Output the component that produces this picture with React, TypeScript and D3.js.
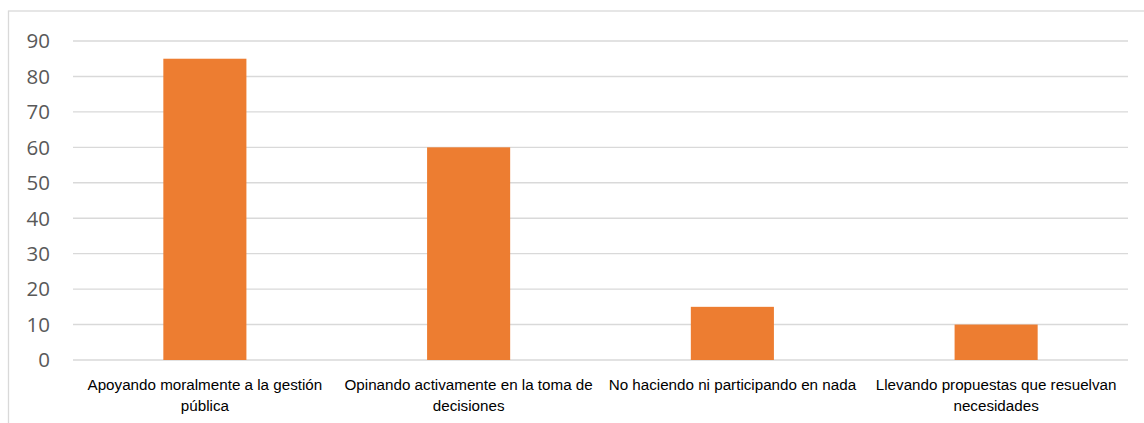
import React from 'react';
import * as d3 from 'd3';

// Data
const categories = [
  'Apoyando moralmente a la gestión pública',
  'Opinando activamente en la toma de decisiones',
  'No haciendo ni participando en nada',
  'Llevando propuestas que resuelvan necesidades',
];
const categoryLines = [
  ['Apoyando moralmente a la gestión', 'pública'],
  ['Opinando activamente en la toma de', 'decisiones'],
  ['No haciendo ni participando en nada'],
  ['Llevando propuestas que resuelvan', 'necesidades'],
];
const values = [85, 60, 15, 10];
const yTicks = [0, 10, 20, 30, 40, 50, 60, 70, 80, 90];

const App: React.FC = () => {
  const width = 1144;
  const height = 423;
  const plotLeft = 73;
  const plotRight = 1128;
  const plotTop = 41;
  const plotBottom = 360;

  const x = d3.scaleBand<string>()
    .domain(categories)
    .range([plotLeft, plotRight])
    .paddingInner(0.685)
    .paddingOuter(0.3425);

  const y = d3.scaleLinear()
    .domain([0, 90])
    .range([plotBottom, plotTop]);

  return (
    <div style={{ position: 'absolute', left: 0, top: 0 }}>
      <svg width={width} height={height} style={{ display: 'block', background: '#fff' }}>
        {/* chart border (right/bottom cropped) */}
        <rect x={8.5} y={11} width={width} height={height} fill="none" stroke="#d9d9d9" strokeWidth={1.3} />

        {/* gridlines */}
        {yTicks.map(t => (
          <line key={t} x1={plotLeft} x2={plotRight} y1={y(t)} y2={y(t)} stroke="#d9d9d9" strokeWidth={1.4} />
        ))}

        {/* y tick labels */}
        {yTicks.map(t => (
          <text key={'l' + t} x={50} y={y(t)} dy="0.36em" textAnchor="end"
            fontFamily="'Open Sans', sans-serif" fontSize={20.5} fill="#595959">{t}</text>
        ))}

        {/* bars */}
        {categories.map((c, i) => (
          <rect key={c} x={x(c)} y={y(values[i])} width={x.bandwidth()} height={y(0) - y(values[i])} fill="#ed7d31" />
        ))}

        {/* x labels */}
        {categories.map((c, i) => (
          <text key={'x' + c} x={(x(c) ?? 0) + x.bandwidth() / 2} y={390} textAnchor="middle"
            fontFamily="'Liberation Sans', Arial, sans-serif" fontSize={15.2} fill="#000">
            {categoryLines[i].map((ln, j) => (
              <tspan key={j} x={(x(c) ?? 0) + x.bandwidth() / 2} dy={j === 0 ? 0 : 20.5}>{ln}</tspan>
            ))}
          </text>
        ))}
      </svg>
    </div>
  );
};

export default App;
